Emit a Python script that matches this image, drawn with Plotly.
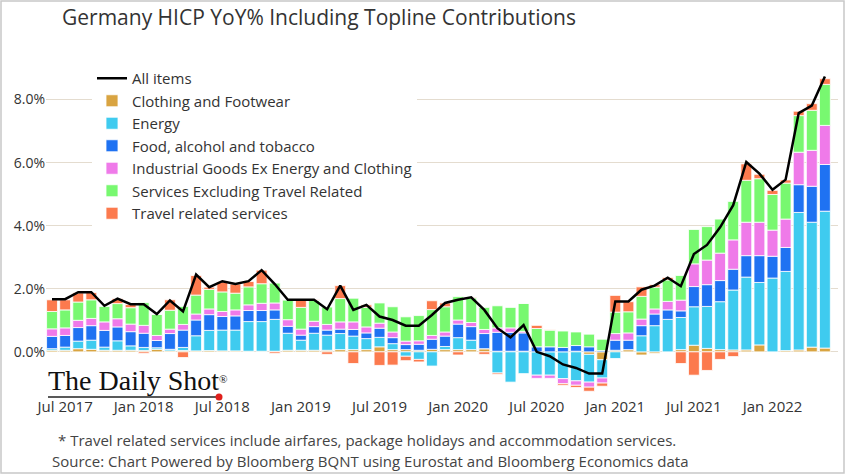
import plotly.graph_objects as go

# ---------------- data ----------------
months = []
for y in range(2017, 2023):
    for m in range(1, 13):
        if (y == 2017 and m < 6) or (y == 2022 and m > 5):
            continue
        months.append(f"{y}-{m:02d}")

clothing = [0.05, 0.05, 0.10, 0.08, 0.05, 0.05, 0.05, 0.04, 0.08, 0.03,
            0.04, 0.03, 0.04, 0.03, 0.03, 0.02, 0.02, 0.02, 0.05, 0.05,
            0.05, 0.05, 0.07, 0.07, 0.07, 0.16, 0.07, 0.07, 0.05, 0.08,
            0.07, 0.07, 0.07, 0.10, 0.02, 0.02, 0.02, 0.00, 0.00, 0.00,
            0.02, -0.08, -0.25, 0.05, 0.07, -0.10, -0.05, 0.00, 0.07, 0.21,
            0.11, 0.07, 0.06, 0.06, 0.22, 0.00, 0.04, 0.06, 0.15, 0.12]
energy = [0.05, 0.10, 0.24, 0.29, 0.10, 0.30, 0.14, 0.10, 0.05, 0.05,
          0.10, 0.48, 0.64, 0.66, 0.66, 0.94, 0.94, 1.01, 0.54, 0.32,
          0.54, 0.48, 0.51, 0.43, 0.35, 0.30, 0.19, -0.14, -0.24, -0.45,
          0.10, 0.38, 0.30, 0.00, -0.67, -0.96, -0.69, -0.74, -0.74, -0.85,
          -0.92, -0.88, -0.58, -0.21, 0.00, 0.51, 0.83, 1.03, 1.02, 1.22,
          1.33, 1.52, 1.90, 2.31, 1.98, 2.34, 2.51, 4.36, 3.96, 4.34]
food = [0.39, 0.37, 0.43, 0.46, 0.53, 0.44, 0.45, 0.45, 0.23, 0.50,
        0.55, 0.50, 0.50, 0.43, 0.45, 0.35, 0.35, 0.30, 0.22, 0.16,
        0.21, 0.16, 0.14, 0.21, 0.18, 0.29, 0.19, 0.16, 0.19, 0.32,
        0.33, 0.43, 0.43, 0.48, 0.60, 0.60, 0.58, 0.16, 0.16, 0.14,
        0.18, 0.16, 0.04, 0.32, 0.30, 0.32, 0.37, 0.30, 0.21, 0.64,
        0.69, 0.67, 0.66, 0.68, 0.85, 0.69, 0.76, 0.88, 1.14, 1.48]
industrial = [0.24, 0.24, 0.23, 0.23, 0.27, 0.26, 0.24, 0.25, 0.16, 0.14,
              0.18, 0.19, 0.18, 0.16, 0.19, 0.18, 0.23, 0.22, 0.21, 0.19,
              0.17, 0.18, 0.23, 0.24, 0.19, 0.16, 0.18, 0.11, 0.11, 0.12,
              0.13, 0.13, 0.13, 0.13, 0.14, 0.14, 0.05, -0.10, -0.10, -0.16,
              -0.14, -0.16, -0.16, 0.21, 0.23, 0.21, 0.16, 0.27, 0.34, 0.72,
              0.78, 0.87, 0.93, 1.06, 1.06, 0.83, 0.90, 1.03, 1.14, 1.24]
services = [0.55, 0.57, 0.58, 0.59, 0.50, 0.48, 0.52, 0.72, 0.67, 0.60,
            0.57, 0.60, 0.62, 0.62, 0.53, 0.57, 0.62, 0.63, 0.63, 0.69,
            0.66, 0.55, 0.74, 0.75, 0.62, 0.64, 0.80, 0.77, 0.80, 0.82,
            0.80, 0.74, 0.78, 0.70, 0.70, 0.66, 0.89, 0.58, 0.53, 0.52,
            0.43, 0.40, 0.36, 0.68, 0.67, 0.72, 0.69, 0.68, 0.78, 1.09,
            1.06, 1.08, 1.22, 1.33, 1.38, 1.13, 1.14, 1.16, 1.27, 1.30]
travel = [0.37, 0.32, 0.29, 0.23, 0.00, 0.16, 0.10, -0.05, 0.00, 0.33,
          -0.18, 0.62, 0.07, 0.32, 0.29, 0.17, 0.43, -0.05, 0.00, 0.24,
          0.02, -0.08, 0.41, -0.37, 0.08, -0.43, -0.42, -0.14, -0.08, 0.28,
          0.12, -0.10, 0.02, -0.08, -0.04, 0.00, 0.00, 0.10, 0.01, -0.05,
          -0.07, -0.13, -0.10, 0.53, 0.32, 0.30, 0.08, 0.08, -0.37, -0.74,
          -0.59, -0.24, -0.15, 0.52, 0.14, 0.13, 0.10, 0.14, 0.21, 0.18]
all_items = [1.67, 1.67, 1.89, 1.89, 1.46, 1.69, 1.51, 1.51, 1.20, 1.63,
             1.28, 2.45, 2.05, 2.24, 2.15, 2.24, 2.59, 2.15, 1.65, 1.65,
             1.65, 1.35, 2.10, 1.33, 1.49, 1.12, 1.01, 0.83, 0.83, 1.17,
             1.55, 1.65, 1.73, 1.33, 0.75, 0.46, 0.85, 0.00, -0.14, -0.40,
             -0.51, -0.69, -0.69, 1.60, 1.60, 1.97, 2.10, 2.35, 2.08, 3.10,
             3.39, 3.95, 4.65, 6.02, 5.65, 5.14, 5.46, 7.57, 7.81, 8.73]

tick_vals = ["2017-07", "2018-01", "2018-07", "2019-01", "2019-07",
             "2020-01", "2020-07", "2021-01", "2021-07", "2022-01"]
tick_text = ["Jul 2017", "Jan 2018", "Jul 2018", "Jan 2019", "Jul 2019",
             "Jan 2020", "Jul 2020", "Jan 2021", "Jul 2021", "Jan 2022"]
y_tick_vals = [0, 2, 4, 6, 8]
y_tick_text = ["0.0%", "2.0%", "4.0%", "6.0%", "8.0%"]

series = [
    ("Clothing and Footwear", clothing, "#d9a441"),
    ("Energy", energy, "#3fcbef"),
    ("Food, alcohol and tobacco", food, "#1f72f2"),
    ("Industrial Goods Ex Energy and Clothing", industrial, "#ef7ae9"),
    ("Services Excluding Travel Related", services, "#78f870"),
    ("Travel related services", travel, "#fc7a4e"),
]

# ---------------- layout geometry ----------------
FW, FH = 846, 475
L, R, T, B = 46, 8, 68, 79
PW, PH = FW - L - R, FH - T - B


def px_x(p):
    return (p - L) / PW


def px_y(p):
    return (FH - B - p) / PH


fig = go.Figure()
fig.add_trace(go.Scatter(x=months, y=all_items, name="All items", mode="lines",
                         line=dict(color="black", width=2.5)))
for name, vals, col in series:
    fig.add_trace(go.Bar(x=months, y=vals, name=name,
                         marker=dict(color=col, line=dict(color="white", width=0.8))))

font_main = "Open Sans, Noto Sans, sans-serif"

fig.update_layout(
    width=FW, height=FH,
    margin=dict(l=L, r=R, t=T, b=B, autoexpand=False),
    paper_bgcolor="white", plot_bgcolor="white",
    barmode="relative", bargap=0.17,
    font=dict(family=font_main, color="#333333", size=14),
    title=dict(text="Germany HICP YoY% Including Topline Contributions",
               xref="container", yref="container",
               x=62 / FW, xanchor="left", y=1 - 18 / FH, yanchor="middle",
               font=dict(size=21, color="#333333", family=font_main)),
    legend=dict(x=px_x(92), y=px_y(62), xanchor="left", yanchor="top",
                bgcolor="white", traceorder="normal",
                font=dict(size=15, color="#333333", family=font_main)),
    xaxis=dict(type="category", range=[-0.46, 60.0], tickvals=tick_vals,
               ticktext=tick_text, showgrid=False, showline=False, ticks="",
               automargin=False, tickfont=dict(size=15, color="#333333")),
    yaxis=dict(range=[-1.4, 9.0], tickvals=y_tick_vals, ticktext=y_tick_text,
               showgrid=True, gridcolor="#e4dccf", gridwidth=1,
               zeroline=True, zerolinecolor="#e4dccf", zerolinewidth=1,
               ticks="", showline=False, automargin=False,
               tickfont=dict(size=14, color="#333333")),
    showlegend=True,
)

# footnotes
fig.add_annotation(text="* Travel related services include airfares, package holidays and accommodation services.",
                   xref="paper", yref="paper", x=px_x(56), y=px_y(440),
                   xanchor="left", yanchor="middle", showarrow=False,
                   font=dict(size=15, color="#444444", family=font_main))
fig.add_annotation(text="Source: Chart Powered by Bloomberg BQNT using Eurostat and Bloomberg Economics data",
                   xref="paper", yref="paper", x=px_x(50), y=px_y(461),
                   xanchor="left", yanchor="middle", showarrow=False,
                   font=dict(size=15, color="#444444", family=font_main))

# logo
fig.add_annotation(text="The Daily Shot<span style='font-size:16px'><sup>®</sup></span>",
                   xref="paper", yref="paper", x=px_x(46), y=px_y(380),
                   xanchor="left", yanchor="middle", showarrow=False,
                   font=dict(size=28, color="#111111", family="Liberation Serif, Times New Roman, serif"))
fig.add_shape(type="line", xref="paper", yref="paper",
              x0=px_x(48), x1=px_x(216), y0=px_y(397), y1=px_y(397),
              line=dict(color="#222222", width=1.5))
fig.add_shape(type="circle", xref="paper", yref="paper",
              x0=px_x(215.5), x1=px_x(222.5), y0=px_y(400.5), y1=px_y(393.5),
              fillcolor="#e0201c", line=dict(color="#e0201c", width=0))

# outer border
fig.add_shape(type="rect", xref="paper", yref="paper",
              x0=px_x(1), x1=px_x(844), y0=px_y(1), y1=px_y(473),
              line=dict(color="#c8c8c8", width=1.5), fillcolor="rgba(0,0,0,0)")

fig.write_html("out.html", config={"displayModeBar": False},
               post_script="document.body.style.margin='0';document.body.style.overflow='hidden';")
